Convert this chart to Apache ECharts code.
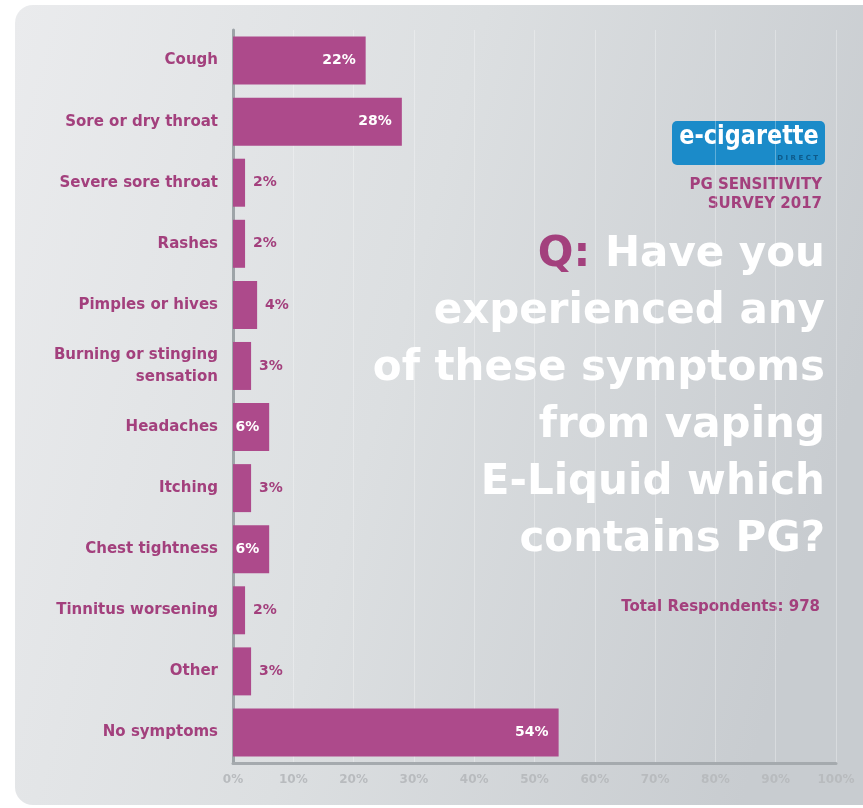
<!DOCTYPE html>
<html>
<head>
<meta charset="utf-8">
<script src="https://cdn.jsdelivr.net/npm/echarts@6/dist/echarts.min.js"></script>
<style>html,body{margin:0;padding:0;background:#fff;}#c{width:863px;height:808px;}</style>
</head>
<body>
<div id="c"></div>
<script>
const categories = ["Cough","Sore or dry throat","Severe sore throat","Rashes","Pimples or hives","Burning or stinging\nsensation","Headaches","Itching","Chest tightness","Tinnitus worsening","Other","No symptoms"];
const values = [22,28,2,2,4,3,6,3,6,2,3,54];
const xTicks = [0,10,20,30,40,50,60,70,80,90,100];
const titleLines = ["Have you","experienced any","of these symptoms","from vaping","E-Liquid which","contains PG?"];

const purple = '#a3407d';
const barColor = '#ad4a8b';
const FONT = '"DejaVu Sans", "Open Sans", sans-serif';
const chart = echarts.init(document.getElementById('c'), null, {renderer:'canvas'});

const graphics = [
  {type:'rect', z:-10, shape:{x:15,y:5,width:880,height:800,r:18},
   style:{fill:new echarts.graphic.LinearGradient(0,0,1,0.3,[{offset:0,color:'#eaebed'},{offset:0.5,color:'#dcdfe1'},{offset:1,color:'#c8ccd0'}])}},
  {type:'rect', shape:{x:672,y:121,width:153,height:44,r:5}, style:{fill:'#1b8bc9'}},
  {type:'text', x:749, y:137, scaleX:0.83, style:{x:0,y:0,text:'e-cigarette',fill:'#fff',font:'bold 27px "DejaVu Sans", sans-serif',textAlign:'center',textVerticalAlign:'middle'}},
  {type:'text', style:{x:818,y:158,text:'D I R E C T',fill:'#0e5a8a',font:'bold 7px '+FONT,textAlign:'right',textVerticalAlign:'middle'}},
  {type:'text', style:{x:822,y:185,text:'PG SENSITIVITY',fill:purple,font:'bold 15px '+FONT,textAlign:'right',textVerticalAlign:'middle'}},
  {type:'text', style:{x:822,y:204,text:'SURVEY 2017',fill:purple,font:'bold 15px '+FONT,textAlign:'right',textVerticalAlign:'middle'}},
  {type:'text', style:{x:820,y:607,text:'Total Respondents: 978',fill:purple,font:'bold 15px '+FONT,textAlign:'right',textVerticalAlign:'middle'}}
];
titleLines.forEach((t,i)=>{
  const y = 255 + i*57;
  const f = 'bold 42px '+FONT;
  if(i===0){
    graphics.push({type:'text', style:{x:825,y:y,text:'{q|Q: }{w|'+t+'}',textAlign:'right',textVerticalAlign:'middle',
      rich:{q:{fill:purple,font:f},w:{fill:'#ffffff',font:f}}}});
  } else {
    graphics.push({type:'text', style:{x:825,y:y,text:t,fill:'#ffffff',font:f,textAlign:'right',textVerticalAlign:'middle'}});
  }
});

chart.setOption({
  animation:false,
  backgroundColor:'#ffffff',
  grid:{left:233,right:27,top:30,bottom:45,containLabel:false},
  xAxis:{type:'value',min:0,max:100,interval:10,
    axisLine:{show:true,onZero:false,lineStyle:{color:'#a5aaae',width:3}},
    axisTick:{show:false},
    axisLabel:{formatter:'{value}%',color:'#b8bbbe',fontWeight:'bold',fontSize:12,margin:11,fontFamily:FONT},
    splitLine:{show:true,lineStyle:{color:'rgba(255,255,255,0.3)',width:1}}},
  yAxis:{type:'category',data:categories,inverse:true,
    axisLine:{show:true,lineStyle:{color:'#9ea4a8',width:3}},
    axisTick:{show:false},
    axisLabel:{color:purple,fontWeight:'bold',fontSize:15,margin:15,lineHeight:22,fontFamily:FONT}},
  series:[{type:'bar',barWidth:48,
    data:values.map(v=>({value:v,label: v>=6 ?
      {show:true,position:'insideRight',color:'#ffffff',distance:10} :
      {show:true,position:'right',color:purple,distance:8}})),
    itemStyle:{color:barColor},
    label:{show:true,formatter:'{c}%',fontWeight:'bold',fontSize:14,fontFamily:FONT}}],
  graphic:graphics
});
</script>
</body>
</html>
